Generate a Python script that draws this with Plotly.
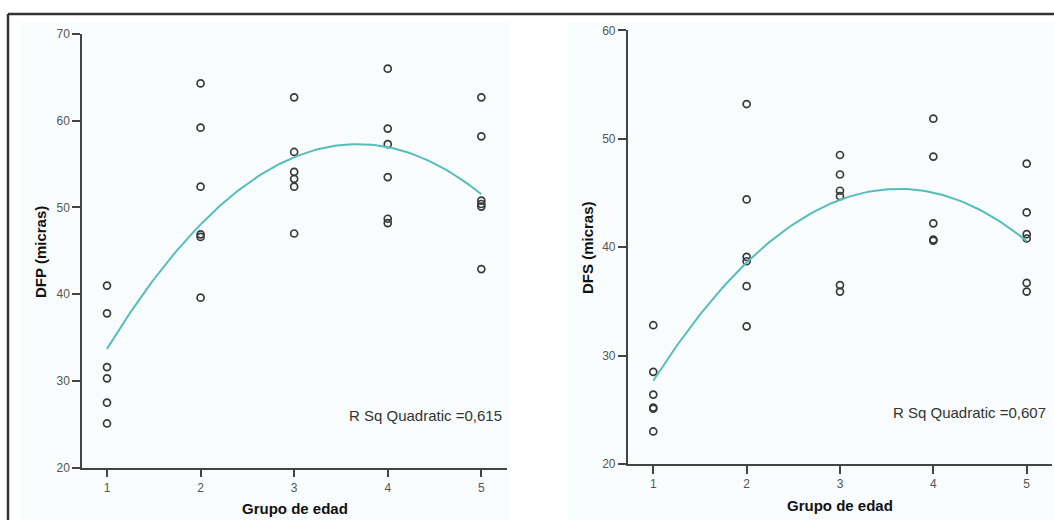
import numpy as np
import plotly.graph_objects as go

# ---- data ----
dfp_group = [1]*6 + [2]*6 + [3]*6 + [4]*6 + [5]*6
dfp_vals = [41.0, 37.8, 31.6, 30.3, 27.5, 25.1,
            64.3, 59.2, 52.4, 46.9, 46.6, 39.6,
            62.7, 56.4, 54.1, 53.3, 52.4, 47.0,
            66.0, 59.1, 57.3, 53.5, 48.7, 48.2,
            62.7, 58.2, 50.8, 50.4, 50.1, 42.9]

dfs_group = [1]*6 + [2]*6 + [3]*6 + [4]*5 + [5]*6
dfs_vals = [32.8, 28.5, 26.4, 25.2, 25.1, 23.0,
            53.2, 44.4, 39.1, 38.7, 36.4, 32.7,
            48.5, 46.7, 45.2, 44.7, 36.5, 35.9,
            51.85, 48.35, 42.2, 40.7, 40.6,
            47.7, 43.2, 41.2, 40.8, 36.7, 35.9]

x_ticks = [1, 2, 3, 4, 5]
rsq_left = "R Sq Quadratic =0,615"
rsq_right = "R Sq Quadratic =0,607"

W, H = 1054, 520
def px(x): return x / W
def py(y): return 1 - y / H

fit_color = "#55BEBB"
mark_color = "#3a3a3a"

fig = go.Figure()

def add_panel(xs, ys, xa, ya):
    fig.add_trace(go.Scatter(x=xs, y=ys, mode="markers", xaxis=xa, yaxis=ya,
                             marker=dict(symbol="circle-open", size=7, color=mark_color,
                                         line=dict(width=1.7, color=mark_color)),
                             showlegend=False, hoverinfo="skip"))
    c = np.polyfit(np.array(xs, float), np.array(ys, float), 2)
    xx = np.linspace(1, 5, 120)
    fig.add_trace(go.Scatter(x=xx, y=np.polyval(c, xx), mode="lines", xaxis=xa, yaxis=ya,
                             line=dict(color=fit_color, width=2),
                             showlegend=False, hoverinfo="skip"))

add_panel(dfp_group, dfp_vals, "x", "y")
add_panel(dfs_group, dfs_vals, "x2", "y2")

tickfont = dict(family="Liberation Sans Narrow, Liberation Sans, Arial", size=12, color="#555555")
axis_common = dict(showline=True, linecolor="#444444", linewidth=1.5, ticks="outside",
                   ticklen=8, tickwidth=1.5, tickcolor="#444444", showgrid=False,
                   zeroline=False, tickfont=tickfont, fixedrange=True, automargin=False)

fig.update_layout(
    width=W, height=H,
    margin=dict(l=0, r=0, t=0, b=0, pad=0, autoexpand=False),
    paper_bgcolor="white", plot_bgcolor="rgba(0,0,0,0)",
    xaxis=dict(domain=[px(82), px(506.7)], range=[0.733, 5.271], anchor="y",
               tickvals=x_ticks, **axis_common),
    yaxis=dict(domain=[py(467.7), py(34)], range=[20, 70], anchor="x",
               tickvals=[20, 30, 40, 50, 60, 70], **axis_common),
    xaxis2=dict(domain=[px(627.7), px(1051.7)], range=[0.726, 5.268], anchor="y2",
                tickvals=x_ticks, **axis_common),
    yaxis2=dict(domain=[py(464), py(30.3)], range=[20, 60], anchor="x2",
                tickvals=[20, 30, 40, 50, 60], **axis_common),
)

shapes = [
    dict(type="rect", xref="paper", yref="paper", x0=px(20), x1=px(509), y0=0, y1=py(22),
         fillcolor="#f9fcfc", line=dict(width=0), layer="below"),
    dict(type="rect", xref="paper", yref="paper", x0=px(568), x1=1, y0=0, y1=py(22),
         fillcolor="#f9fcfc", line=dict(width=0), layer="below"),
    dict(type="line", xref="paper", yref="paper", x0=px(8), x1=1, y0=py(14), y1=py(14),
         line=dict(color="#333333", width=2.5)),
    dict(type="line", xref="paper", yref="paper", x0=px(8), x1=px(8), y0=py(14), y1=0,
         line=dict(color="#333333", width=2.5)),
]
fig.update_layout(shapes=shapes)

title_font = dict(family="Liberation Sans, Arial", size=15, color="#111111")
ann = [
    dict(text="<b>DFP (micras)</b>", x=px(40), y=py(252), textangle=-90),
    dict(text="<b>DFS (micras)</b>", x=px(587), y=py(248), textangle=-90),
    dict(text="<b>Grupo de edad</b>", x=px(295), y=py(508)),
    dict(text="<b>Grupo de edad</b>", x=px(840), y=py(505)),
]
annotations = []
for a in ann:
    a.update(xref="paper", yref="paper", showarrow=False, font=title_font,
             xanchor="center", yanchor="middle")
    annotations.append(a)
rs_font = dict(family="Liberation Sans, Arial", size=15, color="#333333")
annotations.append(dict(text=rsq_left, x=px(504), y=py(415.7), xref="paper", yref="paper",
                        showarrow=False, font=rs_font, xanchor="right", yanchor="middle"))
annotations.append(dict(text=rsq_right, x=px(1048.3), y=py(412.7), xref="paper", yref="paper",
                        showarrow=False, font=rs_font, xanchor="right", yanchor="middle"))
fig.update_layout(annotations=annotations)

fig.write_html("out.html", config={"displayModeBar": False},
               post_script="document.body.style.margin='0';document.body.style.padding='0';"
                           "document.body.style.overflow='hidden';")
